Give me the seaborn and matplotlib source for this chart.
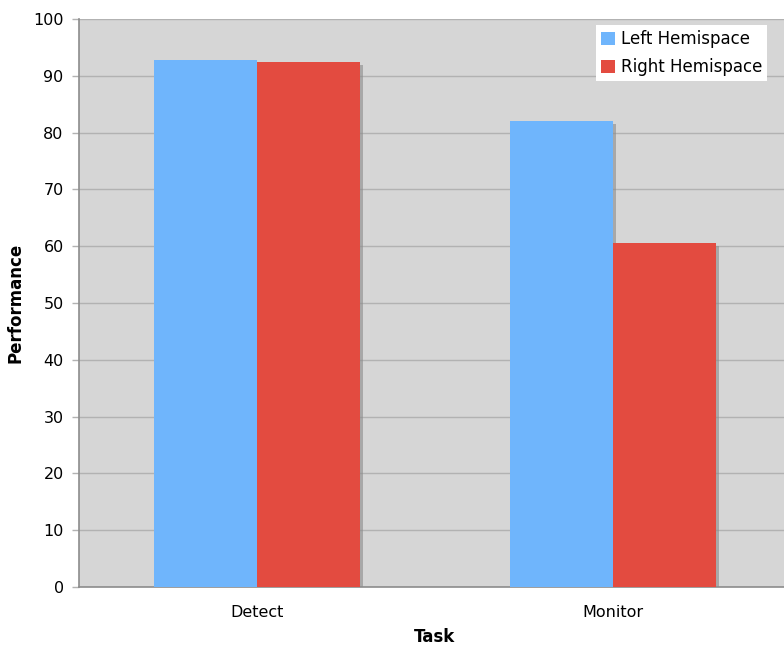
import matplotlib
matplotlib.use("Agg")
import matplotlib.pyplot as plt
import matplotlib.patheffects as pe
import pandas as pd
import seaborn as sns

tasks = ["Detect", "Monitor"]
hemispaces = ["Left Hemispace", "Right Hemispace"]
left_values = [92.8, 82.0]
right_values = [92.4, 60.6]
y_ticks = [0, 10, 20, 30, 40, 50, 60, 70, 80, 90, 100]

df = pd.DataFrame({
    "Task": tasks * 2,
    "Hemispace": [hemispaces[0]] * 2 + [hemispaces[1]] * 2,
    "Performance": left_values + right_values,
})

sns.set_theme(style="white")
plt.rcParams["font.family"] = ["DejaVu Sans"]
plt.rcParams["text.color"] = "black"
plt.rcParams["axes.labelcolor"] = "black"

fig = plt.figure(figsize=(7.84, 6.51), dpi=100)
ax = fig.add_axes([79 / 784, 64 / 651, 712 / 784, 568 / 651])
ax.set_facecolor("#d6d6d6")

palette = {hemispaces[0]: "#6fb5fc", hemispaces[1]: "#e34b40"}
sns.barplot(data=df, x="Task", y="Performance", hue="Hemispace",
            hue_order=hemispaces, palette=palette, width=0.58, gap=0,
            errorbar=None, saturation=1, ax=ax, zorder=3)

shadow = [pe.SimplePatchShadow(offset=(2.2, -2.2), shadow_rgbFace="#8a8a8a", alpha=0.6),
          pe.Normal()]
for patch in ax.patches:
    patch.set_linewidth(0)
    patch.set_path_effects(shadow)

ax.set_xlim(-0.5, 1.5)
ax.set_ylim(0, 100)
ax.set_yticks(y_ticks)
ax.yaxis.grid(True, color="#b2b2b2", linewidth=1.0, zorder=0)
ax.set_axisbelow(True)

for side in ("top", "right"):
    ax.spines[side].set_visible(False)
for side in ("left", "bottom"):
    ax.spines[side].set_color("#8c8c8c")
    ax.spines[side].set_linewidth(1.2)

ax.tick_params(axis="y", left=True, length=5, width=1, color="#b2b2b2",
               labelsize=11.5, labelcolor="black", pad=6)
ax.tick_params(axis="x", bottom=False, labelsize=11.5, labelcolor="black", pad=7)

ax.set_xlabel("Task", fontsize=12, fontweight="bold", labelpad=6)
ax.set_ylabel("Performance", fontsize=12, fontweight="bold", labelpad=6)

leg = ax.legend(loc="upper left", bbox_to_anchor=(596 / 784, 1 - 25 / 651),
                bbox_transform=fig.transFigure,
                frameon=True, framealpha=1, fontsize=12, handlelength=0.85,
                handleheight=0.85, handletextpad=0.35, borderpad=0.3,
                labelspacing=0.6, fancybox=False, borderaxespad=0)
leg.get_frame().set_facecolor("white")
leg.get_frame().set_edgecolor("white")
leg.get_frame().set_linewidth(0)
for h in leg.legend_handles:
    h.set_path_effects([])

fig.savefig("out.png", dpi=100, facecolor="white")
